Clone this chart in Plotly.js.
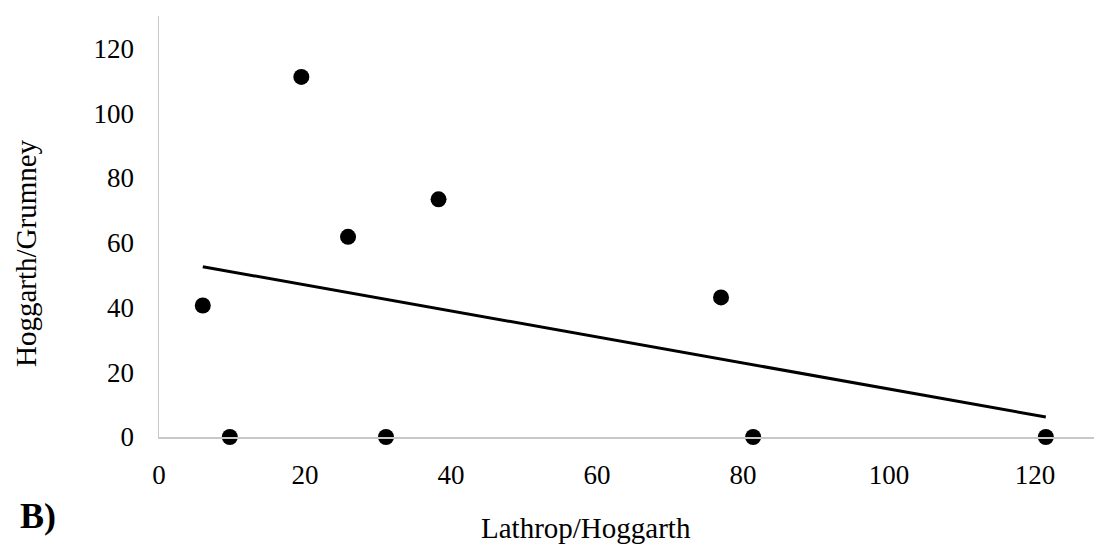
<!DOCTYPE html>
<html>
<head>
<meta charset="utf-8">
<script src="https://cdn.plot.ly/plotly-3.0.1.min.js"></script>
<style>html,body{margin:0;padding:0;background:#fff;}#chart{width:1094px;height:544px;}</style>
</head>
<body>
<div id="chart"></div>
<script>
// Data
const lathropHoggarth = [6.0, 9.7, 19.5, 25.9, 31.1, 38.3, 77.0, 81.4, 121.5];
const hoggarthGrumney = [40.6, 0, 111.2, 61.8, 0, 73.4, 43.1, 0, 0];
const xTickVals = [0, 20, 40, 60, 80, 100, 120];
const yTickVals = [0, 20, 40, 60, 80, 100, 120];
const xTitle = "Lathrop/Hoggarth";
const yTitle = "Hoggarth/Grumney";
const panelLabel = "B)";

// Linear (least squares) trendline from the data
const n = lathropHoggarth.length;
const mx = lathropHoggarth.reduce((a, b) => a + b, 0) / n;
const my = hoggarthGrumney.reduce((a, b) => a + b, 0) / n;
let sxy = 0, sxx = 0;
for (let i = 0; i < n; i++) {
  sxy += (lathropHoggarth[i] - mx) * (hoggarthGrumney[i] - my);
  sxx += (lathropHoggarth[i] - mx) ** 2;
}
const slope = sxy / sxx;
const intercept = my - slope * mx;
const xMin = Math.min(...lathropHoggarth), xMax = Math.max(...lathropHoggarth);
const trendX = [xMin, xMax];
const trendY = trendX.map(x => intercept + slope * x);

const font = "Liberation Serif, Times New Roman, serif";

const traces = [
  {
    x: trendX, y: trendY, type: "scatter", mode: "lines",
    line: {color: "#000", width: 3}, hoverinfo: "skip", cliponaxis: false
  },
  {
    x: lathropHoggarth, y: hoggarthGrumney, type: "scatter", mode: "markers",
    marker: {color: "#000", size: 16}, cliponaxis: false
  }
];

const layout = {
  width: 1094, height: 544,
  margin: {l: 159, r: 0, t: 16, b: 107, pad: 0},
  paper_bgcolor: "#fff", plot_bgcolor: "#fff",
  showlegend: false,
  font: {family: font, color: "#000", size: 27},
  xaxis: {
    range: [0, 128.1], tickvals: xTickVals, ticktext: xTickVals.map(String),
    showgrid: false, zeroline: false, showline: true, linecolor: "#c8c8c8", linewidth: 1.5,
    ticks: "", ticklabelstandoff: 13, tickfont: {family: font, size: 27, color: "#000"}
  },
  yaxis: {
    range: [0, 130], tickvals: yTickVals, ticktext: yTickVals.map(String),
    showgrid: false, zeroline: false, showline: true, linecolor: "#c8c8c8", linewidth: 1.5,
    ticks: "", ticklabelstandoff: 18, tickfont: {family: font, size: 27, color: "#000"}
  },
  annotations: [
    {text: xTitle, xref: "paper", yref: "paper", x: (586 - 159) / 935, y: -(528 - 437) / 421,
     xanchor: "center", yanchor: "middle", showarrow: false, font: {family: font, size: 29, color: "#000"}},
    {text: yTitle, xref: "paper", yref: "paper", x: (26 - 159) / 935, y: (437 - 253) / 421,
     xanchor: "center", yanchor: "middle", textangle: -90, showarrow: false, font: {family: font, size: 29, color: "#000"}},
    {text: "<b>" + panelLabel + "</b>", xref: "paper", yref: "paper", x: (18 - 159) / 935, y: -(516 - 437) / 421,
     xanchor: "left", yanchor: "middle", showarrow: false, font: {family: font, size: 36, color: "#000"}}
  ]
};

Plotly.newPlot("chart", traces, layout, {displayModeBar: false, staticPlot: true});
</script>
</body>
</html>
